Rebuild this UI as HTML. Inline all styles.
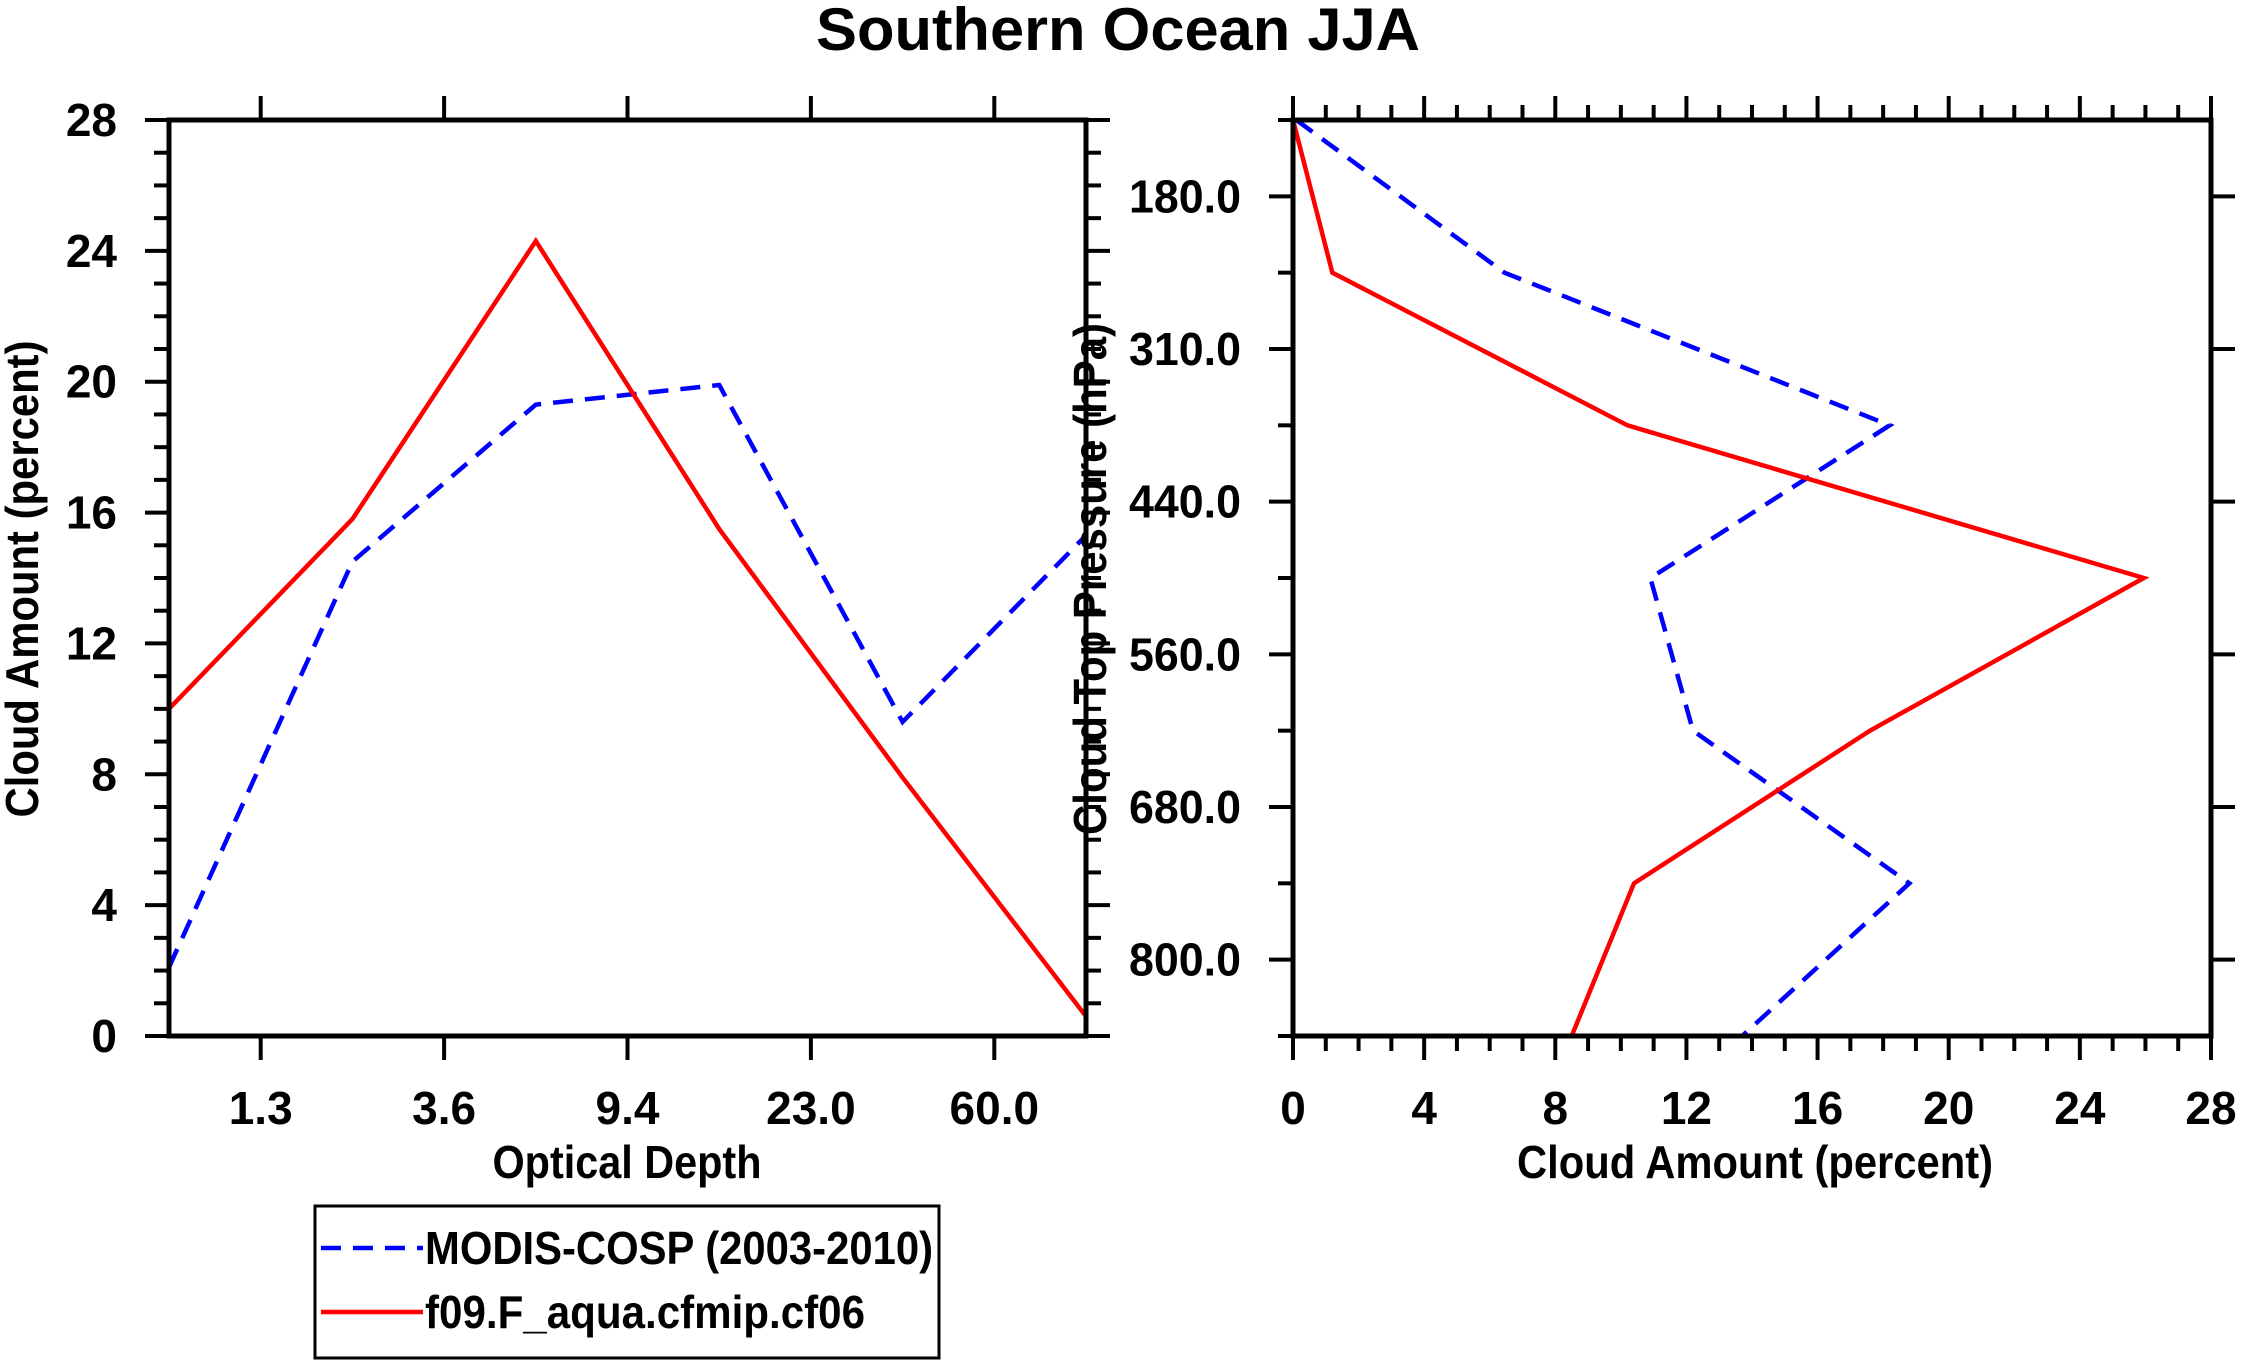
<!DOCTYPE html>
<html><head><meta charset="utf-8"><style>
html,body{margin:0;padding:0;background:#fff}
svg{display:block}
text{font-family:"Liberation Sans",sans-serif;font-weight:bold;fill:#000}
</style></head><body>
<svg id="chart" width="2241" height="1365" viewBox="0 0 2241 1365" xmlns="http://www.w3.org/2000/svg">
<text x="1118" y="50" font-size="60" text-anchor="middle" textLength="604" lengthAdjust="spacingAndGlyphs">Southern Ocean JJA</text>
<g id="left"></g>
<g id="right"></g>
<g>
<rect x="315" y="1206" width="624" height="152" fill="#fff" stroke="#000" stroke-width="3"/>
<line x1="321" y1="1248" x2="423" y2="1248" stroke="#0000ff" stroke-width="4.5" stroke-dasharray="20,12"/>
<text x="425" y="1264" font-size="46" textLength="508" lengthAdjust="spacingAndGlyphs">MODIS-COSP (2003-2010)</text>
<line x1="321" y1="1312" x2="423" y2="1312" stroke="#ff0000" stroke-width="4.5"/>
<text x="425" y="1328" font-size="46" textLength="440" lengthAdjust="spacingAndGlyphs">f09.F_aqua.cfmip.cf06</text>
</g>
</svg>
<script>
const tauLabels = ["1.3","3.6","9.4","23.0","60.0"];
const tauModis = [2.1, 14.5, 19.3, 19.9, 9.6, 15.3];
const tauModel = [10.0, 15.8, 24.3, 15.5, 7.9, 0.6];
const presLabels = ["180.0","310.0","440.0","560.0","680.0","800.0"];
const presModis = [0.1, 6.45, 18.2, 10.9, 12.2, 18.8, 13.7];
const presModel = [0.0, 1.2, 10.2, 25.95, 17.6, 10.4, 8.5];
const amountTicks = [0,4,8,12,16,20,24,28];

const NS="http://www.w3.org/2000/svg";
function mk(parent,tag,attrs){const e=document.createElementNS(NS,tag);for(const k in attrs)e.setAttribute(k,attrs[k]);parent.appendChild(e);return e;}
const Y0=120, Y1=1036;
const MAJ=24, MIN=15, TW=4, FS=46;

// LEFT PANEL
const L=document.getElementById('left');
const lx0=169, lx1=1086;
const lx=i=>lx0+(lx1-lx0)*i/5;
const ly=v=>Y1-(Y1-Y0)*v/28;
for(let v=0;v<=28;v++){
  const len=(v%4===0)?MAJ:MIN;
  let t=mk(L,'line',{x1:lx0-len,y1:ly(v),x2:lx0,y2:ly(v),stroke:'#000','stroke-width':TW});
  
  
  t=mk(L,'line',{x1:lx1,y1:ly(v),x2:lx1+len,y2:ly(v),stroke:'#000','stroke-width':TW});
  
  
}
amountTicks.forEach(v=>{
  const t=mk(L,'text',{x:117,y:ly(v)+16,'font-size':FS,'text-anchor':'end'});t.textContent=v;
  
  
});
tauLabels.forEach((s,i)=>{
  const x=lx(i+0.5);
  let t=mk(L,'line',{x1:x,y1:Y0-MAJ,x2:x,y2:Y0,stroke:'#000','stroke-width':TW});
  
  
  t=mk(L,'line',{x1:x,y1:Y1,x2:x,y2:Y1+MAJ,stroke:'#000','stroke-width':TW});
  
  
  t=mk(L,'text',{x:x,y:1124,'font-size':FS,'text-anchor':'middle'});t.textContent=s;
  
  
});
function series(parent,pts,color,dash,name){
  const p=mk(parent,'polyline',{points:pts.map(q=>q.join(',')).join(' '),fill:'none',stroke:color,'stroke-width':4.5,'stroke-linejoin':'miter'});
  if(dash)p.setAttribute('stroke-dasharray','20,12');
  
  
}
series(L,tauModis.map((v,i)=>[lx(i),ly(v)]),'#0000ff',true,'modis-optical-depth-line');
series(L,tauModel.map((v,i)=>[lx(i),ly(v)]),'#ff0000',false,'model-optical-depth-line');
let fr=mk(L,'rect',{x:lx0,y:Y0,width:lx1-lx0,height:Y1-Y0,fill:'none',stroke:'#000','stroke-width':5});


let tt=mk(L,'text',{x:627,y:1178,'font-size':FS,'text-anchor':'middle',textLength:269,lengthAdjust:'spacingAndGlyphs'});tt.textContent='Optical Depth';


tt=mk(L,'text',{x:0,y:0,'font-size':FS,'text-anchor':'middle',textLength:477,lengthAdjust:'spacingAndGlyphs',transform:'translate(38,579) rotate(-90)'});tt.textContent='Cloud Amount (percent)';



// RIGHT PANEL
const R=document.getElementById('right');
const rx0=1293, rx1=2211;
const rx=v=>rx0+(rx1-rx0)*v/28;
const ry=i=>Y0+(Y1-Y0)*i/6;
for(let v=0;v<=28;v++){
  const len=(v%4===0)?MAJ:MIN;
  let t=mk(R,'line',{x1:rx(v),y1:Y1,x2:rx(v),y2:Y1+len,stroke:'#000','stroke-width':TW});
  
  
  t=mk(R,'line',{x1:rx(v),y1:Y0-len,x2:rx(v),y2:Y0,stroke:'#000','stroke-width':TW});
  
  
}
amountTicks.forEach(v=>{
  const t=mk(R,'text',{x:rx(v),y:1124,'font-size':FS,'text-anchor':'middle'});t.textContent=v;
  
  
});
for(let i=0;i<=6;i++){
  const t=mk(R,'line',{x1:rx0-MIN,y1:ry(i),x2:rx0,y2:ry(i),stroke:'#000','stroke-width':TW});
  
  
}
presLabels.forEach((s,i)=>{
  const y=ry(i+0.5);
  let t=mk(R,'line',{x1:rx0-MAJ,y1:y,x2:rx0,y2:y,stroke:'#000','stroke-width':TW});
  
  
  t=mk(R,'line',{x1:rx1,y1:y,x2:rx1+MAJ,y2:y,stroke:'#000','stroke-width':TW});
  
  
  t=mk(R,'text',{x:1241,y:y+16,'font-size':FS,'text-anchor':'end',textLength:112,lengthAdjust:'spacingAndGlyphs'});t.textContent=s;
  
  
});
series(R,presModis.map((v,i)=>[rx(v),ry(i)]),'#0000ff',true,'modis-pressure-line');
series(R,presModel.map((v,i)=>[rx(v),ry(i)]),'#ff0000',false,'model-pressure-line');
fr=mk(R,'rect',{x:rx0,y:Y0,width:rx1-rx0,height:Y1-Y0,fill:'none',stroke:'#000','stroke-width':5});


tt=mk(R,'text',{x:1755,y:1178,'font-size':FS,'text-anchor':'middle',textLength:476,lengthAdjust:'spacingAndGlyphs'});tt.textContent='Cloud Amount (percent)';


tt=mk(R,'text',{x:0,y:0,'font-size':FS,'text-anchor':'middle',textLength:512,lengthAdjust:'spacingAndGlyphs',transform:'translate(1106,579) rotate(-90)'});tt.textContent='Cloud Top Pressure (hPa)';


</script>
</body></html>
